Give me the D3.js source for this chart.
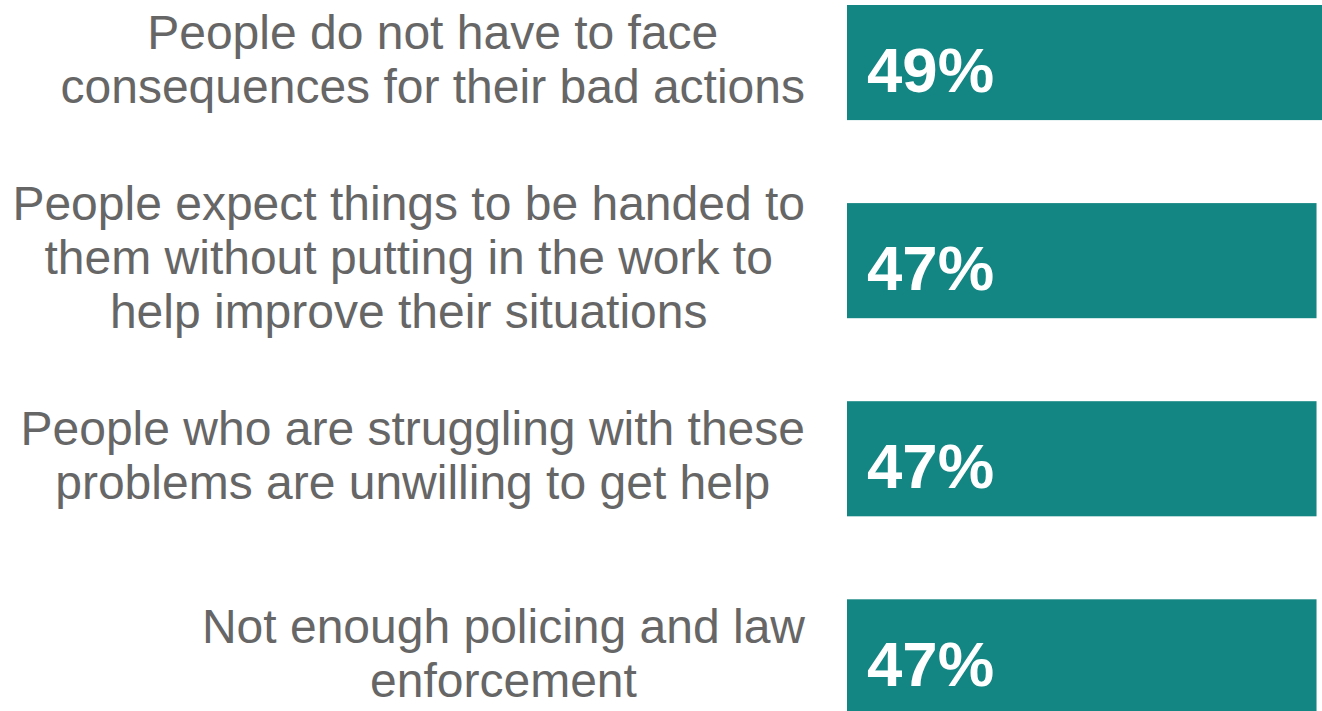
<!DOCTYPE html>
<html>
<head>
<meta charset="utf-8">
<script src="https://cdn.jsdelivr.net/npm/d3@7"></script>
<style>
  html, body { margin: 0; padding: 0; background: #ffffff; }
  svg { display: block; }
</style>
</head>
<body>
<svg id="chart" width="1322" height="711"></svg>
<script>
// Reasons respondents gave (each label split into its display lines)
const categories = [
  "People do not have to face consequences for their bad actions",
  "People expect things to be handed to them without putting in the work to help improve their situations",
  "People who are struggling with these problems are unwilling to get help",
  "Not enough policing and law enforcement"
];
const labelLines = [
  ["People do not have to face", "consequences for their bad actions"],
  ["People expect things to be handed to", "them without putting in the work to", "help improve their situations"],
  ["People who are struggling with these", "problems are unwilling to get help"],
  ["Not enough policing and law", "enforcement"]
];
const values = [49, 47, 47, 47];

const W = 1322, H = 711;
const svg = d3.select("#chart");

const barColor = "#138683";
const textColor = "#666666";

const y = d3.scaleBand()
  .domain(categories)
  .range([5, 714.4])
  .paddingInner(0.419)
  .paddingOuter(0)
  .align(0);

const x = d3.scaleLinear()
  .domain([0, 100])
  .range([847, 847 + 999]);

// Bars (the longest one runs off the right edge)
svg.append("g")
  .selectAll("rect")
  .data(values)
  .join("rect")
  .attr("x", x(0))
  .attr("y", (d, i) => y(categories[i]))
  .attr("width", d => x(d) - x(0))
  .attr("height", y.bandwidth())
  .attr("fill", barColor);

// Value labels inside the bars
svg.append("g")
  .selectAll("text")
  .data(values)
  .join("text")
  .attr("x", x(0) + 20)
  .attr("y", (d, i) => y(categories[i]) + y.bandwidth() / 2 + 29)
  .attr("fill", "#ffffff")
  .attr("font-family", "'Liberation Sans', Arial, sans-serif")
  .attr("font-weight", "bold")
  .attr("font-size", 63.5)
  .text(d => d + "%");

// Category labels: lines centred on each other, block right edge at 805
const lineH = 54;
const labelRight = 805;
const labelG = svg.append("g")
  .attr("font-family", "'Liberation Sans', Arial, sans-serif")
  .attr("font-size", 48)
  .attr("fill", textColor);

labelLines.forEach((lines, i) => {
  const cy = y(categories[i]) + y.bandwidth() / 2;
  const t = labelG.append("text").attr("text-anchor", "middle");
  const spans = lines.map((ln, j) =>
    t.append("tspan")
      .attr("y", cy + (j - (lines.length - 1) / 2) * lineH + 13)
      .text(ln)
  );
  const maxW = d3.max(spans, s => s.node().getComputedTextLength());
  spans.forEach(s => s.attr("x", labelRight - maxW / 2));
});
</script>
</body>
</html>
